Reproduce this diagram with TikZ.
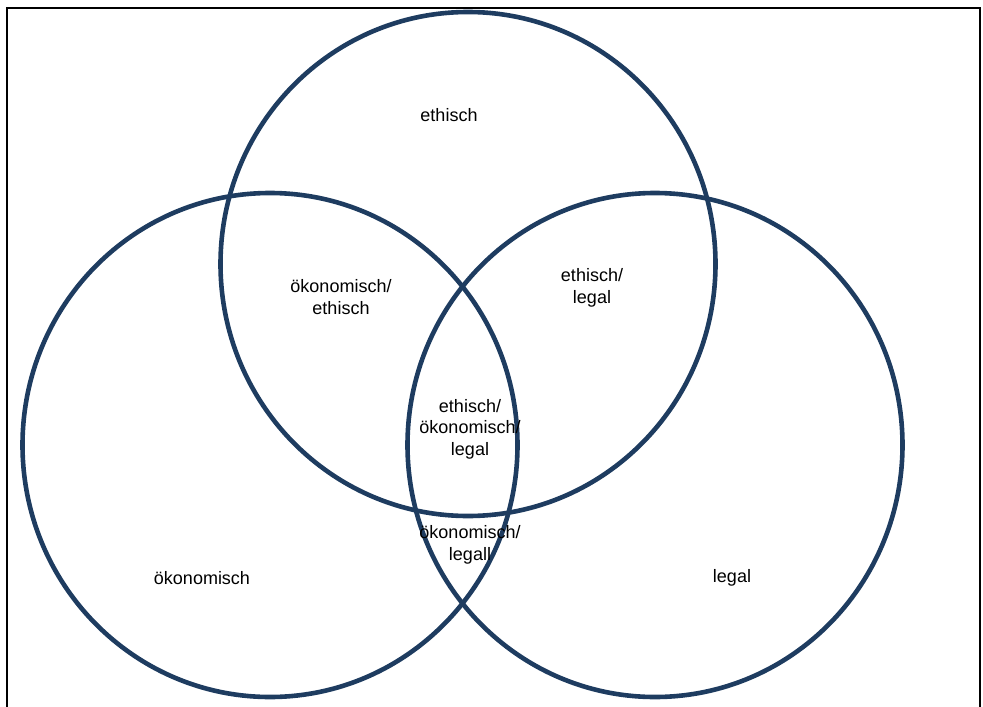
\documentclass[tikz,border=0pt]{standalone}
\usepackage{fontspec}
\setmainfont{Liberation Sans}
\usetikzlibrary{positioning}
\definecolor{ringblue}{RGB}{30,60,96}

\begin{document}
\begin{tikzpicture}[x=1pt,y=-1pt,
        ring/.style={draw=ringblue,line width=4.6pt},
        lbl/.style={align=center,inner sep=0pt,font=\fontsize{18}{21.5}\selectfont}]
        \useasboundingbox (0,0) rectangle (983,707);
        % frame
        \draw[line width=2.2pt] (7,707) -- (7,8) -- (980,8) -- (980,707);
        % the three sets
        \coordinate (eth) at (468,264);
        \coordinate (oek) at (270,445);
        \coordinate (leg) at (655,445);
        \draw[ring] (eth) ellipse [x radius=247.5, y radius=252];
        \draw[ring] (oek) ellipse [x radius=247.5, y radius=252];
        \draw[ring] (leg) ellipse [x radius=247.5, y radius=252];
        % labels
        \node[lbl] (ethisch) at (449,115) {ethisch};
        \node[lbl] (oekonomisch) at (202,578) {ökonomisch};
        \node[lbl] (legal) at (732,578) {legal};
        \node[lbl] (oekEth) at (341,297) {ökonomisch/\\ethisch};
        \node[lbl] (ethLeg) at (592,288) {ethisch/\\legal};
        \node[lbl] (oekLeg) at (470,545) {ökonomisch/\\legall};
        \node[lbl] (alle) at (470,429) {ethisch/\\ökonomisch/\\legal};
\end{tikzpicture}
\end{document}
